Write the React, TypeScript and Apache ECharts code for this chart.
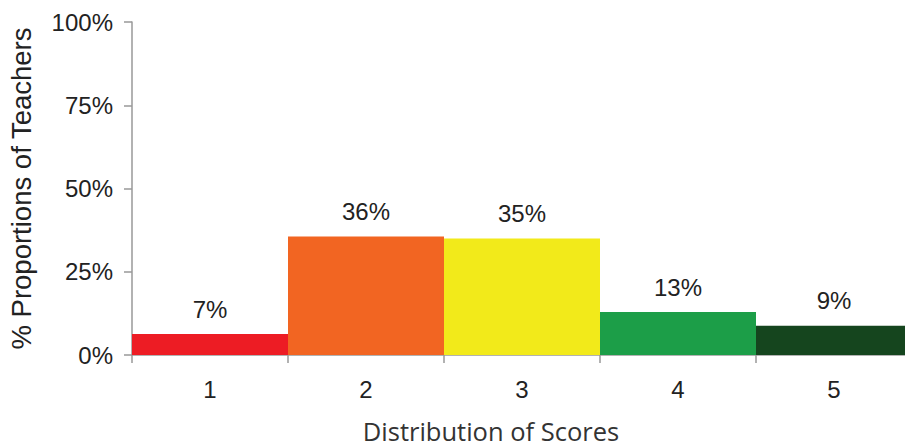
import React, { useEffect, useRef } from "react";
import * as echarts from "echarts";

const categories = ["1", "2", "3", "4", "5"];
const values = [6.3, 35.6, 35.0, 12.9, 8.8];
const valueLabels = ["7%", "36%", "35%", "13%", "9%"];
const barColors = ["#ED1C24", "#F26522", "#F2EA1A", "#1C9E48", "#15451E"];
const yTicks = [0, 25, 50, 75, 100];
const xTitle = "Distribution of Scores";
const yTitle = "% Proportions of Teachers";

export default function App() {
  const ref = useRef<HTMLDivElement>(null);
  useEffect(() => {
    if (!ref.current) return;
    const chart = echarts.init(ref.current, undefined, { renderer: "svg" });
    chart.setOption({
      animation: false,
      grid: { left: 132, top: 22, right: 0, bottom: 93, containLabel: false, outerBoundsMode: "none" },
      graphic: [
        {
          type: "text",
          x: 491,
          y: 431,
          style: {
            text: xTitle,
            fontFamily: "Open Sans",
            fontSize: 25.5,
            lineHeight: 26,
            fill: "#333",
            textAlign: "center",
            textVerticalAlign: "middle",
          },
        },
      ],
      xAxis: {
        type: "category",
        data: categories,
        axisLine: { lineStyle: { color: "#999", width: 1.5 } },
        axisTick: { show: true, length: 8, lineStyle: { color: "#999", width: 1.5 } },
        axisLabel: { margin: 22, fontFamily: "Liberation Sans", fontSize: 24, color: "#222" },
      },
      yAxis: {
        type: "value",
        min: yTicks[0],
        max: yTicks[yTicks.length - 1],
        interval: 25,
        name: yTitle,
        nameLocation: "middle",
        nameGap: 97,
        nameTextStyle: { fontFamily: "Liberation Sans", fontSize: 27.5, color: "#222" },
        splitLine: { show: false },
        axisLine: { show: true, lineStyle: { color: "#999", width: 1.5 } },
        axisTick: { show: true, length: 8, lineStyle: { color: "#999", width: 1.5 } },
        axisLabel: {
          margin: 19,
          fontFamily: "Liberation Sans",
          fontSize: 24,
          color: "#222",
          formatter: (v: number) => v + "%",
        },
      },
      series: [
        {
          type: "bar",
          barWidth: "100%",
          data: values.map((v, i) => ({ value: v, itemStyle: { color: barColors[i] } })),
          label: {
            show: true,
            position: "top",
            distance: 13,
            fontFamily: "Liberation Sans",
            fontSize: 24,
            color: "#222",
            formatter: (p: any) => valueLabels[p.dataIndex],
          },
        },
      ],
    });
    return () => chart.dispose();
  }, []);
  return (
    <div style={{ width: 905, height: 448, position: "absolute", left: 0, top: 0, overflow: "hidden" }}>
      <div ref={ref} style={{ width: 912, height: 448 }} />
    </div>
  );
}
